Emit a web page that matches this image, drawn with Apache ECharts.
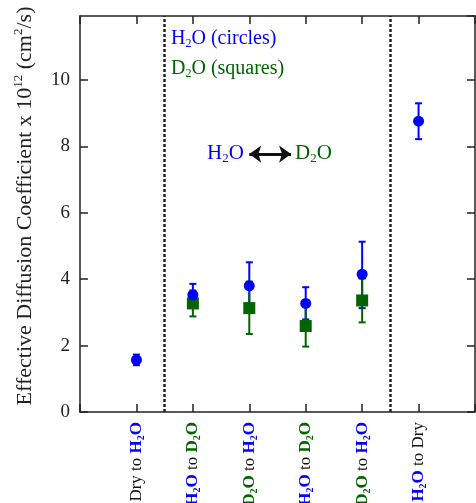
<!DOCTYPE html>
<html>
<head>
<meta charset="utf-8">
<script src="https://cdn.jsdelivr.net/npm/echarts@6/dist/echarts.min.js"></script>
<style>
html, body { margin: 0; padding: 0; background: #fff; }
#main { width: 476px; height: 503px; }
</style>
</head>
<body>
<div id="main"></div>
<script>
// categories on the x axis (position 1..6)
var categories = ['Dry to H2O', 'H2O to D2O', 'D2O to H2O', 'H2O to D2O', 'D2O to H2O', 'H2O to Dry'];
var catLabels = [
  '{k|Dry to }{h|H}{hs|2}{h|O}',
  '{h|H}{hs|2}{h|O}{k| to }{g|D}{gs|2}{g|O}',
  '{g|D}{gs|2}{g|O}{k| to }{h|H}{hs|2}{h|O}',
  '{h|H}{hs|2}{h|O}{k| to }{g|D}{gs|2}{g|O}',
  '{g|D}{gs|2}{g|O}{k| to }{h|H}{hs|2}{h|O}',
  '{h|H}{hs|2}{h|O}{k| to Dry}'
];

// H2O (circles)
var h2oX     = [1, 2, 3, 4, 5, 6];
var h2oValue = [1.57, 3.53, 3.80, 3.27, 4.15, 8.76];
var h2oLow   = [1.41, 3.20, 3.10, 2.79, 3.13, 8.22];
var h2oHigh  = [1.73, 3.86, 4.51, 3.76, 5.13, 9.30];

// D2O (squares)
var d2oX     = [2, 3, 4, 5];
var d2oValue = [3.27, 3.13, 2.59, 3.36];
var d2oLow   = [2.88, 2.35, 1.97, 2.70];
var d2oHigh  = [3.66, 3.93, 3.21, 4.02];

// dotted separators between phases
var dividers = [1.5, 5.5];

var blue = '#0000ff';
var green = '#006400';
var serif = 'Liberation Serif';

var chart = echarts.init(document.getElementById('main'));

function errorBar(color) {
  return function (params, api) {
    var x = api.value(0);
    var lo = api.coord([x, api.value(1)]);
    var hi = api.coord([x, api.value(2)]);
    var w = 3.5;
    var st = { stroke: color, lineWidth: 2 };
    return {
      type: 'group',
      children: [
        { type: 'line', shape: { x1: lo[0], y1: lo[1], x2: hi[0], y2: hi[1] }, style: st },
        { type: 'line', shape: { x1: lo[0] - w, y1: lo[1], x2: lo[0] + w, y2: lo[1] }, style: st },
        { type: 'line', shape: { x1: hi[0] - w, y1: hi[1], x2: hi[0] + w, y2: hi[1] }, style: st }
      ]
    };
  };
}

var h2oBars = [], h2oPts = [], d2oBars = [], d2oPts = [];
for (var i = 0; i < h2oX.length; i++) {
  h2oBars.push([h2oX[i], h2oLow[i], h2oHigh[i]]);
  h2oPts.push([h2oX[i], h2oValue[i]]);
}
for (var j = 0; j < d2oX.length; j++) {
  d2oBars.push([d2oX[j], d2oLow[j], d2oHigh[j]]);
  d2oPts.push([d2oX[j], d2oValue[j]]);
}

function axisLine() {
  return { onZero: false, lineStyle: { color: '#222', width: 1.5 } };
}
function axisTick() {
  return { inside: true, length: 8, lineStyle: { color: '#222', width: 1.5 } };
}

var option = {
  animation: false,
  backgroundColor: '#fff',
  grid: { left: 80, right: 1, top: 16, bottom: 91, outerBoundsMode: 'none', containLabel: false },
  xAxis: [
    {
      type: 'value', min: 0, max: 7, interval: 1, position: 'bottom',
      splitLine: { show: false },
      axisLine: axisLine(), axisTick: axisTick(),
      axisLabel: {
        rotate: 90, margin: 10,
        formatter: function (v) { return catLabels[Math.round(v) - 1] || ''; },
        rich: {
          k: { fontFamily: serif, fontSize: 17, color: '#111', lineHeight: 20 },
          h: { fontFamily: serif, fontSize: 17, fontWeight: 'bold', color: blue, lineHeight: 20 },
          g: { fontFamily: serif, fontSize: 17, fontWeight: 'bold', color: green, lineHeight: 20 },
          hs: { fontFamily: serif, fontSize: 10, fontWeight: 'bold', color: blue, lineHeight: 10, verticalAlign: 'bottom' },
          gs: { fontFamily: serif, fontSize: 10, fontWeight: 'bold', color: green, lineHeight: 10, verticalAlign: 'bottom' }
        }
      }
    },
    {
      type: 'value', min: 0, max: 7, interval: 1, position: 'top',
      splitLine: { show: false },
      axisLine: axisLine(), axisTick: axisTick(), axisLabel: { show: false }
    }
  ],
  yAxis: [
    {
      type: 'value', min: 0, max: 11.93, interval: 2, position: 'left',
      splitLine: { show: false },
      axisLine: axisLine(), axisTick: axisTick(),
      axisLabel: { showMaxLabel: false, margin: 10, fontFamily: serif, fontSize: 19, color: '#222' },
      name: '{n|Effective Diffusion Coefficient x 10}{s|12}{n| (cm}{s|2}{n|/s)}',
      nameLocation: 'middle', nameGap: 42,
      nameTextStyle: {
        padding: [0, 0, 0, 16],
        rich: {
          n: { fontFamily: serif, fontSize: 22, color: '#222', lineHeight: 26 },
          s: { fontFamily: serif, fontSize: 13, color: '#222', lineHeight: 13, verticalAlign: 'top' }
        }
      }
    },
    {
      type: 'value', min: 0, max: 11.93, interval: 2, position: 'right',
      splitLine: { show: false },
      axisLine: axisLine(), axisTick: axisTick(), axisLabel: { show: false }
    }
  ],
  series: [
    {
      name: 'H2O error', type: 'custom', z: 2,
      renderItem: errorBar(blue), encode: { x: 0, y: [1, 2] }, data: h2oBars
    },
    {
      name: 'D2O error', type: 'custom', z: 3,
      renderItem: errorBar(green), encode: { x: 0, y: [1, 2] }, data: d2oBars
    },
    {
      name: 'D2O', type: 'scatter', z: 4, symbol: 'rect', symbolSize: 12,
      itemStyle: { color: green, opacity: 1 }, data: d2oPts,
      markLine: {
        silent: true, symbol: ['none', 'none'], label: { show: false },
        lineStyle: { color: '#222', width: 2.5, type: [3, 2] },
        data: dividers.map(function (d) { return { xAxis: d }; })
      }
    },
    {
      name: 'H2O', type: 'scatter', z: 5, symbol: 'circle', symbolSize: 11,
      itemStyle: { color: blue, opacity: 1 }, data: h2oPts,
      markLine: {
        silent: true, symbol: ['arrow', 'arrow'], symbolSize: [13, 12], label: { show: false },
        lineStyle: { color: '#111', width: 3, type: 'solid' },
        data: [[{ coord: [3.0, 7.77] }, { coord: [3.74, 7.77] }]]
      }
    }
  ],
  graphic: [
    {
      type: 'text', left: 171, top: 29,
      style: {
        text: '{a|H}{s|2}{a|O (circles)}',
        rich: {
          a: { fontFamily: serif, fontSize: 20, fill: blue, lineHeight: 22 },
          s: { fontFamily: serif, fontSize: 12, fill: blue, lineHeight: 12, verticalAlign: 'bottom' }
        }
      }
    },
    {
      type: 'text', left: 171, top: 59,
      style: {
        text: '{a|D}{s|2}{a|O (squares)}',
        rich: {
          a: { fontFamily: serif, fontSize: 20, fill: green, lineHeight: 22 },
          s: { fontFamily: serif, fontSize: 12, fill: green, lineHeight: 12, verticalAlign: 'bottom' }
        }
      }
    },
    {
      type: 'text', left: 207, top: 143,
      style: {
        text: '{a|H}{s|2}{a|O}',
        rich: {
          a: { fontFamily: serif, fontSize: 21, fill: blue, lineHeight: 24 },
          s: { fontFamily: serif, fontSize: 13, fill: blue, lineHeight: 13, verticalAlign: 'bottom' }
        }
      }
    },
    {
      type: 'text', left: 295, top: 143,
      style: {
        text: '{a|D}{s|2}{a|O}',
        rich: {
          a: { fontFamily: serif, fontSize: 21, fill: green, lineHeight: 24 },
          s: { fontFamily: serif, fontSize: 13, fill: green, lineHeight: 13, verticalAlign: 'bottom' }
        }
      }
    }
  ]
};

chart.setOption(option);
</script>
</body>
</html>
